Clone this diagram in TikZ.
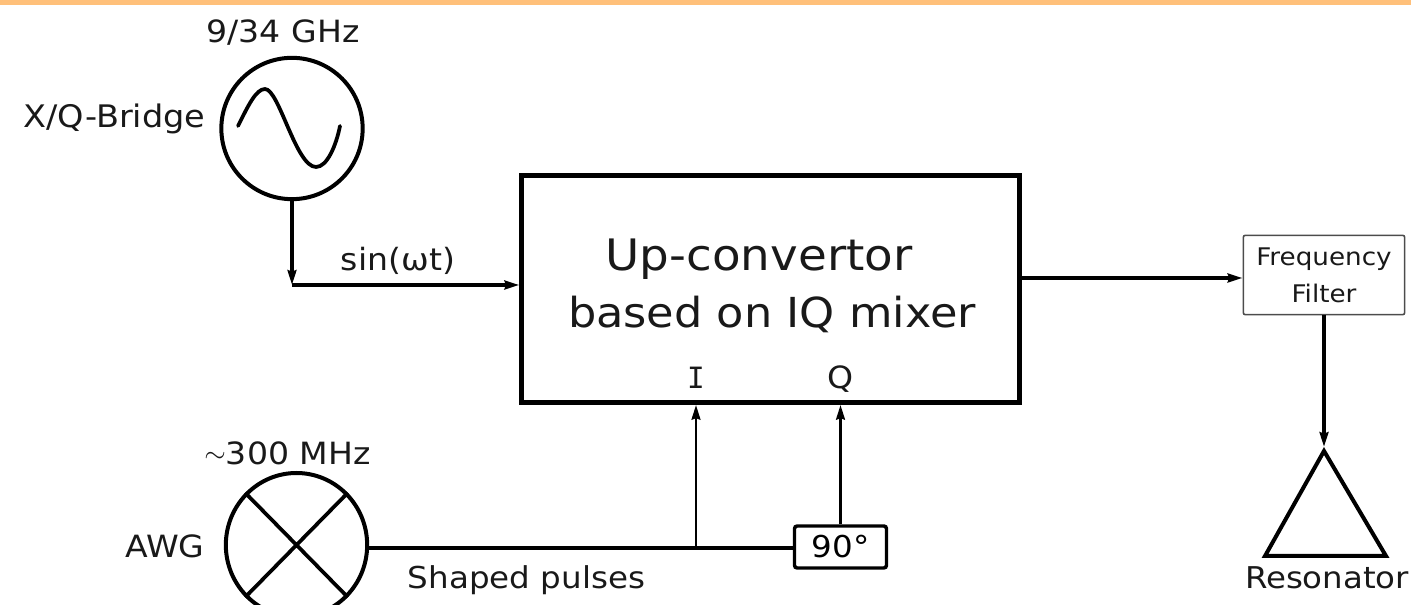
\documentclass[tikz,border=0pt]{standalone}
\usepackage{fontspec}
\setmainfont[FakeStretch=1.08]{DejaVu Sans}
\newfontfamily\monof{DejaVu Sans Mono}
\usetikzlibrary{arrows.meta,shapes.geometric}
\definecolor{band}{HTML}{FFC07A}
\newcommand{\fs}[1]{\fontsize{#1}{#1}\selectfont}
\tikzset{
  lab/.style={inner sep=0pt,outer sep=0pt,align=center,text=black!90},
  big/.style={lab,font=\fs{23}},
  wire/.style={line width=2.6pt,line join=miter},
  thin wire/.style={line width=2.2pt},
  tip/.style={-{Stealth[length=11pt,width=6.5pt,inset=1pt]}},
  ring/.style={draw,ellipse,line width=3pt,inner sep=0pt,minimum width=107pt,minimum height=107pt},
}
\begin{document}
\begin{tikzpicture}[x=0.75pt,y=-0.75pt]
\useasboundingbox (0,0) rectangle (1411,605);
\clip (0,0) rectangle (1411,605);
\fill[band] (0,0) rectangle (1411,5.5);
% oscillator
\node[ring,minimum width=106pt,minimum height=106pt] (osc) at (292,128.5) {};
\draw[line width=2.8pt,line cap=round] (238,126) .. controls (248,106) and (256,89) .. (265,89)
  .. controls (279,89) and (296,167) .. (316,167) .. controls (327,167) and (336,146) .. (340,126);
\node[big] (f1) at (283,33) {9/34 GHz};
\node[big,font=\fs{23.3}] (xq) at (114.5,119) {X/Q-Bridge};
% mixer
\node[draw,line width=3.8pt,minimum width=373pt,minimum height=170pt,inner sep=0pt] (mix) at (770.5,289) {};
\node[lab,font=\fs{32.5}] (t1) at (759,259) {Up-convertor};
\node[lab,font=\fs{31}] (t2) at (772,314) {based on IQ mixer};
\node[lab,font=\monof\fs{22}] (I) at (696,378) {I};
\node[big] (Q) at (841,379) {Q};
% LO path
\coordinate (corner) at (osc.south |- 0,285);
\draw[wire,tip] (osc.south) -- (corner);
\draw[wire,tip] (corner) -- (mix.west |- corner);
\node[lab,font=\fs{23}] (sin) at (398,261) {sin(ωt)};
% AWG
\node[ring,minimum width=106pt,minimum height=108pt] (awg) at (296.5,545) {};
\draw[line width=2.8pt] (awg.north west) -- (awg.south east) (awg.north east) -- (awg.south west);
\node[big] (f2) at (287.5,453) {\raisebox{1pt}{\fs{20}$\sim$}300 MHz};
\node[big] (awgl) at (165,546) {AWG};
\node[lab,font=\fs{22.6}] (sp) at (526.5,580) {Shaped pulses};
\node[draw,line width=2.6pt,rounded corners=2pt,minimum width=69pt,minimum height=31.5pt,inner sep=0pt,font=\fs{22.6}] (deg) at (840.5,547) {90°};
\coordinate (junc) at (696,548);
\draw[wire] (awg.east |- junc) -- (junc) -- (deg.west |- junc);
\draw[thin wire,tip] (junc) -- (junc |- mix.south);
\draw[thin wire,tip] (deg.north) -- (deg.north |- mix.south);
% output
\node[draw=black!70,line width=1.2pt,rounded corners=1.5pt,minimum width=121pt,minimum height=59.5pt,inner sep=0pt,font=\fs{18.2},align=center,text=black!90,execute at begin node={\baselineskip=27.5pt}] (filt) at (1324,275) {Frequency\\Filter};
\draw[wire,tip] (mix.east |- 0,278) -- (filt.west |- 0,278);
\coordinate (apex) at (1324,451);
\draw[line width=3pt,line join=miter] (apex) -- (1386,556) -- (1265,556) -- cycle;
\draw[wire,tip] (filt.south) -- (1324,447);
\node[big,font=\fs{22.5}] (res) at (1327,578) {Resonator};
\end{tikzpicture}
\end{document}
